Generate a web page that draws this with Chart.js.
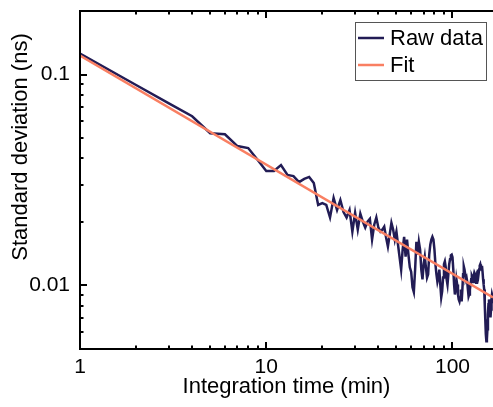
<!DOCTYPE html>
<html>
<head>
<meta charset="utf-8">
<script src="https://cdn.jsdelivr.net/npm/chart.js@4"></script>
<style>
  html, body { margin: 0; padding: 0; background: #fff; }
  canvas { display: block; }
</style>
</head>
<body>
<canvas id="chart" width="493" height="407"></canvas>
<script>
const minutes = [
  1, 2, 3, 4, 5, 6, 7, 8, 9, 10, 11, 12, 13, 14, 15, 16, 17, 18, 19, 20,
  21, 22, 23, 24, 25, 26, 27, 28, 29, 30, 31, 32, 33, 34, 35, 36, 37, 38, 39, 40,
  41, 42, 43, 44, 45, 46, 47, 48, 49, 50, 51, 52, 53, 54, 55, 56, 57, 58, 59, 60,
  61, 62, 63, 64, 65, 66, 67, 68, 69, 70, 71, 72, 73, 74, 75, 76, 77, 78, 79, 80,
  81, 82, 83, 84, 85, 86, 87, 88, 89, 90, 91, 92, 93, 94, 95, 96, 97, 98, 99, 100,
  101, 102, 103, 104, 105, 106, 107, 108, 109, 110, 111, 112, 113, 114, 115, 116, 117, 118, 119, 120,
  121, 122, 123, 124, 125, 126, 127, 128, 129, 130, 131, 132, 133, 134, 135, 136, 137, 138, 139, 140,
  141, 142, 143, 144, 145, 146, 147, 148, 149, 150, 151, 152, 153, 154, 155, 156, 157, 158, 159, 160,
  161, 162, 163, 164, 165
];

// standard deviation of the raw data (ns), one value per minute
const rawDeviation = [
  0.1256, 0.0892, 0.0730, 0.0634, 0.0527, 0.0521, 0.0458, 0.0448, 0.0393, 0.0349,
  0.0349, 0.0372, 0.0334, 0.0330, 0.0309, 0.0320, 0.0327, 0.0306, 0.0241, 0.0246,
  0.0241, 0.0210, 0.0260, 0.0228, 0.0254, 0.0223, 0.0210, 0.0228, 0.0180, 0.0221,
  0.0184, 0.0219, 0.0201, 0.0188, 0.0201, 0.0207, 0.0165, 0.0194, 0.0210, 0.0188,
  0.0180, 0.0184, 0.0190, 0.0169, 0.0153, 0.0174, 0.0198, 0.0184, 0.0165, 0.0180,
  0.0156, 0.0136, 0.0119, 0.0148, 0.0170, 0.0137, 0.0165, 0.0140, 0.0122, 0.0116,
  0.0098, 0.0093, 0.0119, 0.0161, 0.0140, 0.0161, 0.0148, 0.0119, 0.0107, 0.0126,
  0.0137, 0.0122, 0.0109, 0.0113, 0.0140, 0.0156, 0.0165, 0.0170, 0.0165, 0.0148,
  0.0126, 0.0113, 0.0104, 0.0109, 0.0119, 0.0101, 0.00878, 0.00937, 0.0109, 0.0126,
  0.0130, 0.0122, 0.0107, 0.0101, 0.0113, 0.0126, 0.0133, 0.0139, 0.0140, 0.0136,
  0.0119, 0.0101, 0.00907, 0.00957, 0.0107, 0.0101, 0.00907, 0.00859, 0.00840, 0.00878,
  0.00957, 0.00840, 0.00957, 0.0113, 0.0123, 0.0119, 0.0113, 0.0107, 0.0109, 0.0104,
  0.00957, 0.00887, 0.00907, 0.00957, 0.0101, 0.0107, 0.0111, 0.0109, 0.0104, 0.0111,
  0.0115, 0.0113, 0.0107, 0.0103, 0.0109, 0.0116, 0.0119, 0.0113, 0.0119, 0.0124,
  0.0126, 0.0122, 0.0119, 0.0124, 0.0116, 0.0107, 0.0101, 0.00957, 0.00814, 0.00691,
  0.00587, 0.00544, 0.00556, 0.00620, 0.00730, 0.00814, 0.00859, 0.00814, 0.00730, 0.00706,
  0.00770, 0.00859, 0.00907, 0.00887, 0.00859
];

// power-law fit, straight on log-log axes
const fitTimes = [1, 165];
const fitDeviation = [0.123, 0.00878];

const xMajorTicks = [1, 10, 100];
const xMinorTicks = [2, 3, 4, 5, 6, 7, 8, 9, 20, 30, 40, 50, 60, 70, 80, 90];
const yMajorTicks = [0.01, 0.1];
const yMinorTicks = [0.005, 0.006, 0.007, 0.008, 0.009, 0.02, 0.03, 0.04, 0.05, 0.06, 0.07, 0.08, 0.09, 0.2];

const seriesNames = ["Raw data", "Fit"];
const colors = ["#221c55", "#f97f62"];
const fontFamily = "'Liberation Sans', Arial, sans-serif";

Chart.defaults.font.family = fontFamily;
Chart.defaults.color = "#000";

// axis frame with inward tick marks
const frame = {
  id: "frame",
  afterDatasetsDraw(chart) {
    const { ctx, chartArea: a, scales: { x, y } } = chart;
    ctx.save();
    ctx.strokeStyle = "#000";
    ctx.lineWidth = 2;
    ctx.beginPath();
    ctx.moveTo(a.left - 1, a.top);
    ctx.lineTo(a.right, a.top);
    ctx.moveTo(a.left, a.top);
    ctx.lineTo(a.left, a.bottom);
    ctx.moveTo(a.left - 1, a.bottom);
    ctx.lineTo(a.right, a.bottom);
    const xTick = (v, len) => {
      const px = Math.round(x.getPixelForValue(v));
      ctx.moveTo(px, a.bottom);
      ctx.lineTo(px, a.bottom - len);
      ctx.moveTo(px, a.top);
      ctx.lineTo(px, a.top + len);
    };
    const yTick = (v, len) => {
      const py = Math.round(y.getPixelForValue(v));
      ctx.moveTo(a.left, py);
      ctx.lineTo(a.left + len, py);
    };
    xMajorTicks.forEach(v => xTick(v, 7));
    xMinorTicks.forEach(v => xTick(v, 3.5));
    yMajorTicks.forEach(v => yTick(v, 7));
    yMinorTicks.forEach(v => yTick(v, 3.5));
    ctx.stroke();
    ctx.restore();
  },
  afterDraw(chart) {
    const { ctx } = chart;
    ctx.save();
    // y axis title
    ctx.fillStyle = "#000";
    ctx.font = "22px " + fontFamily;
    ctx.textAlign = "center";
    ctx.textBaseline = "middle";
    ctx.translate(21, 147);
    ctx.rotate(-Math.PI / 2);
    ctx.fillText("Standard deviation (ns)", 0, 0);
    ctx.restore();

    // legend
    ctx.save();
    ctx.strokeStyle = "#555";
    ctx.lineWidth = 1;
    ctx.strokeRect(355.5, 22.5, 131, 58);
    ctx.font = "22px " + fontFamily;
    ctx.textBaseline = "middle";
    ctx.fillStyle = "#000";
    seriesNames.forEach((name, i) => {
      const ly = 38 + i * 27;
      ctx.strokeStyle = colors[i];
      ctx.lineWidth = 2.5;
      ctx.beginPath();
      ctx.moveTo(358, ly);
      ctx.lineTo(384, ly);
      ctx.stroke();
      ctx.fillText(name, 390, ly + 1);
    });
    ctx.restore();
  }
};

new Chart(document.getElementById("chart"), {
  type: "line",
  data: {
    datasets: [
      {
        label: seriesNames[0],
        data: minutes.map((t, i) => ({ x: t, y: rawDeviation[i] })),
        borderColor: colors[0],
        borderWidth: 2.5,
        pointRadius: 0,
        tension: 0,
        order: 2
      },
      {
        label: seriesNames[1],
        data: fitTimes.map((t, i) => ({ x: t, y: fitDeviation[i] })),
        borderColor: colors[1],
        borderWidth: 2.5,
        pointRadius: 0,
        order: 1
      }
    ]
  },
  options: {
    responsive: false,
    animation: false,
    layout: { padding: { top: 11, right: 0, bottom: 0, left: 0 } },
    plugins: { legend: { display: false }, tooltip: { enabled: false } },
    scales: {
      x: {
        type: "logarithmic",
        min: 1,
        max: 165,
        grid: { display: false, drawTicks: false },
        border: { display: false },
        afterBuildTicks: s => { s.ticks = xMajorTicks.map(v => ({ value: v })); },
        afterFit: s => { s.height = 58; s.paddingLeft = 0; s.paddingRight = 0; },
        ticks: {
          autoSkip: false,
          maxRotation: 0,
          padding: 6,
          font: { size: 21 },
          callback: v => String(v)
        },
        title: {
          display: true,
          text: "Integration time (min)",
          font: { size: 22 },
          padding: { top: 0, bottom: 7 }
        }
      },
      y: {
        type: "logarithmic",
        min: 0.005,
        max: 0.2,
        grid: { display: false, drawTicks: false },
        border: { display: false },
        afterBuildTicks: s => { s.ticks = yMajorTicks.map(v => ({ value: v })); },
        afterFit: s => { s.width = 80; s.paddingTop = 0; s.paddingBottom = 0; },
        ticks: {
          autoSkip: false,
          padding: 10,
          font: { size: 21 },
          callback: v => String(v)
        }
      }
    }
  },
  plugins: [frame]
});
</script>
</body>
</html>
